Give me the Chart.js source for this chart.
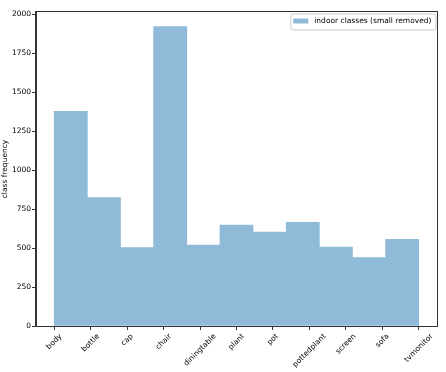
<!DOCTYPE html>
<html>
<head>
<meta charset="utf-8">
<script src="https://cdn.jsdelivr.net/npm/chart.js@4.4.0/dist/chart.umd.min.js"></script>
<style>
  html, body { margin: 0; padding: 0; background: #fff; }
</style>
</head>
<body>
<canvas id="histChart" width="446" height="372"></canvas>
<script>
const classNames = ['body', 'bottle', 'cap', 'chair', 'diningtable', 'plant', 'pot', 'pottedplant', 'screen', 'sofa', 'tvmonitor'];
const binCounts = [1378, 825, 504, 1923, 520, 648, 603, 665, 507, 440, 556];
const yTicks = [0, 250, 500, 750, 1000, 1250, 1500, 1750, 2000];
const seriesLabel = 'indoor classes (small removed)';

// hist() put 11 bins over the class index range 0..10, so bins don't line up with ticks
const binWidth = (classNames.length - 1) / binCounts.length;
const binData = binCounts.map((count, i) => ({ x: (i + 0.5) * binWidth, y: count }));

const FONT_SIZE = 7.5;
const FONT = `${FONT_SIZE}px "DejaVu Sans"`;
// C0 at alpha 0.5 over white, kept opaque so touching bars don't double up on the seam
const BAR_COLOR = 'rgb(143, 187, 217)';
const SPINE = '#333';

Chart.defaults.font.family = '"DejaVu Sans"';
Chart.defaults.font.size = FONT_SIZE;
Chart.defaults.color = '#000';

// x labels rotated 45deg, centred under the tick like matplotlib does
const rotatedTickLabels = {
  id: 'rotatedTickLabels',
  afterDraw(chart) {
    const { ctx } = chart;
    const x = chart.scales.x;
    ctx.save();
    ctx.font = FONT;
    ctx.fillStyle = '#000';
    ctx.textAlign = 'center';
    ctx.textBaseline = 'middle';
    classNames.forEach((name, i) => {
      const w = ctx.measureText(name).width;
      const half = (w + FONT_SIZE) * Math.SQRT1_2 / 2;
      ctx.save();
      ctx.translate(x.getPixelForValue(i), x.top + 6.5 + half);
      ctx.rotate(-Math.PI / 4);
      ctx.fillText(name, 0, 0);
      ctx.restore();
    });
    ctx.restore();
  },
};

// full box round the axes + legend inside the top right corner
const frameAndLegend = {
  id: 'frameAndLegend',
  afterDraw(chart) {
    const { ctx, chartArea: a } = chart;
    ctx.save();
    ctx.strokeStyle = SPINE;
    ctx.lineWidth = 1;
    ctx.strokeRect(Math.round(a.left) - 0.5, Math.round(a.top) - 0.5, Math.round(a.right - a.left) + 1, Math.round(a.bottom - a.top) + 1);

    ctx.font = FONT;
    const textW = ctx.measureText(seriesLabel).width;
    const boxRight = a.right - 1.5;
    const boxTop = a.top + 1.5;
    const boxW = 4 + textW + 6 + 15 + 3;
    const boxH = 16;
    const boxLeft = boxRight - boxW;

    ctx.fillStyle = 'rgba(255,255,255,0.8)';
    ctx.strokeStyle = '#ccc';
    ctx.beginPath();
    ctx.roundRect(boxLeft + 0.5, boxTop + 0.5, boxW, boxH, 2);
    ctx.fill();
    ctx.stroke();

    ctx.fillStyle = BAR_COLOR;
    ctx.fillRect(boxLeft + 3, boxTop + 5, 15, 5);

    ctx.fillStyle = '#000';
    ctx.textAlign = 'left';
    ctx.textBaseline = 'middle';
    ctx.fillText(seriesLabel, boxLeft + 24, boxTop + 8);
    ctx.restore();
  },
};

const histChart = new Chart('histChart', {
  type: 'bar',
  data: {
    datasets: [
      {
        label: seriesLabel,
        data: binData,
        backgroundColor: BAR_COLOR,
        borderWidth: 0,
        barPercentage: 1,
        categoryPercentage: 1,
      },
    ],
  },
  options: {
    responsive: false,
    animation: false,
    devicePixelRatio: 1,
    layout: { padding: { top: 12, right: 9, left: 0, bottom: 0 } },
    plugins: {
      legend: { display: false },
      tooltip: { enabled: false },
    },
    scales: {
      x: {
        type: 'linear',
        offset: false,
        min: -0.5,
        max: 10.5,
        afterBuildTicks: axis => {
          axis.ticks = classNames.map((n, i) => ({ value: i }));
        },
        afterFit: axis => {
          axis.height = 46;
        },
        ticks: { display: false },
        grid: { offset: false, drawOnChartArea: false, tickLength: 4, color: SPINE },
        border: { color: SPINE },
      },
      y: {
        min: 0,
        max: 2016,
        afterBuildTicks: axis => {
          axis.ticks = yTicks.map(v => ({ value: v }));
        },
        afterFit: axis => {
          axis.width = 36;
        },
        ticks: { padding: 1, color: '#000', callback: v => String(v) },
        grid: { drawOnChartArea: false, tickLength: 4, color: SPINE },
        border: { color: SPINE },
        title: {
          display: true,
          text: 'class frequency',
          color: '#000',
          padding: { top: 1, bottom: 0 },
        },
      },
    },
  },
  plugins: [rotatedTickLabels, frameAndLegend],
});
</script>
</body>
</html>
